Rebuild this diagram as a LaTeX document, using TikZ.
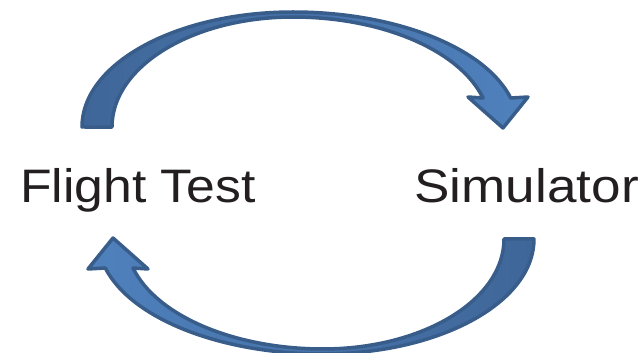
\documentclass[tikz,border=0pt]{standalone}
\usepackage{fontspec}
\setmainfont{Liberation Sans}
\definecolor{arrowedge}{HTML}{385D8A}
\definecolor{arrowfill}{HTML}{4F81BD}
\definecolor{arrowdark}{HTML}{3F6698}
\definecolor{inkblack}{HTML}{231F20}
\tikzset{
  blockarrow/.style={draw=arrowedge, line width=3.5pt, line join=round},
  loopname/.style={font=\fontsize{47}{56}\selectfont, text=inkblack, inner sep=0pt}
}
\begin{document}
\begin{tikzpicture}[x=1pt, y=1pt]
  \useasboundingbox (-308,-170) rectangle (332,183);
  % the two ends of the loop
  \node[loopname, anchor=base west, xscale=1.1] (flight) at (-288,-20) {Flight Test};
  \node[loopname, anchor=base east, xscale=1.13] (sim) at (331,-20) {Simulator};
  % curved arrows, the lower one turned half round
  \foreach \ang/\tailcol/\headcol in {0/arrowdark/arrowfill, 180/arrowfill/arrowdark} {
    \begin{scope}[rotate=\ang]
      \filldraw[blockarrow, left color=\tailcol, right color=\headcol]
        (-226,56) arc[start angle=180, end angle=90, x radius=211, y radius=115]
        arc[start angle=90, end angle=14.6, x radius=225, y radius=115]
        -- (220,86) -- (195,55) -- (160,86) -- (175,85)
        arc[start angle=15.3, end angle=90, x radius=197, y radius=110]
        arc[start angle=90, end angle=180, x radius=181, y radius=110]
        -- cycle;
    \end{scope}
  }
\end{tikzpicture}
\end{document}
